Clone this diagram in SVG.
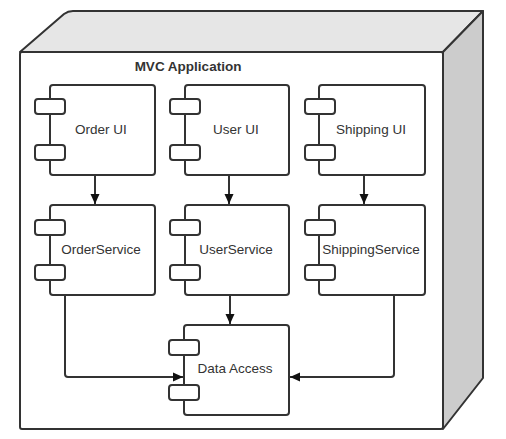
<svg xmlns="http://www.w3.org/2000/svg" width="506" height="439" viewBox="0 0 506 439">
<defs>
<style>
.edge{fill:none;stroke:#333;stroke-width:2}
.face{stroke:#333;stroke-width:2;stroke-linejoin:round}
.body{fill:#fff;stroke:#333;stroke-width:2}
.port{fill:#fff;stroke:#333;stroke-width:2}
.lbl{font-family:"Liberation Sans",Arial,sans-serif;font-size:13.5px;fill:#333;text-anchor:middle}
.title{font-family:"Liberation Sans",Arial,sans-serif;font-size:13.5px;font-weight:bold;fill:#333;text-anchor:middle}
</style>
<marker id="arr" markerWidth="10" markerHeight="10" refX="10" refY="5" orient="auto" markerUnits="userSpaceOnUse">
<path d="M0,0.5 L10,5 L0,9.5 Z" fill="#111"/>
</marker>
</defs>
<g id="node">
<path class="face" fill="#e6e6e6" d="M20,52 L64,14 Q68,11 73,11 L483,11 L443,52 Z"/>
<path class="face" fill="#cccccc" d="M443,52 L483,11 L483,378 L443,429 Z"/>
<rect class="face" fill="#fff" x="20" y="52" width="423" height="377" rx="2"/>
<text class="title" x="188" y="71">MVC Application</text>
</g>
<g id="connectors">
<path class="edge" d="M95,175 V204" marker-end="url(#arr)"/>
<path class="edge" d="M229,175 V204" marker-end="url(#arr)"/>
<path class="edge" d="M364,175 V204" marker-end="url(#arr)"/>
<path class="edge" d="M230,295 V324" marker-end="url(#arr)"/>
<path class="edge" d="M65,295 V374 Q65,377 68,377 H183" marker-end="url(#arr)"/>
<path class="edge" d="M394,295 V374 Q394,377 391,377 H290" marker-end="url(#arr)"/>
</g>
<g id="order-ui">
<rect class="body" x="50" y="85" width="105" height="90" rx="3"/>
<rect class="port" x="35" y="99" width="30" height="15" rx="3"/>
<rect class="port" x="35" y="145" width="30" height="15" rx="3"/>
<text class="lbl" x="101" y="134">Order UI</text>
</g>
<g id="user-ui">
<rect class="body" x="185" y="85" width="104" height="90" rx="3"/>
<rect class="port" x="170" y="99" width="30" height="15" rx="3"/>
<rect class="port" x="170" y="145" width="30" height="15" rx="3"/>
<text class="lbl" x="236" y="134">User UI</text>
</g>
<g id="shipping-ui">
<rect class="body" x="319" y="85" width="106" height="90" rx="3"/>
<rect class="port" x="305" y="99" width="30" height="15" rx="3"/>
<rect class="port" x="305" y="145" width="30" height="15" rx="3"/>
<text class="lbl" x="371" y="134">Shipping UI</text>
</g>
<g id="order-service">
<rect class="body" x="50" y="205" width="105" height="90" rx="3"/>
<rect class="port" x="35" y="220" width="30" height="15" rx="3"/>
<rect class="port" x="35" y="265" width="30" height="15" rx="3"/>
<text class="lbl" x="101" y="254">OrderService</text>
</g>
<g id="user-service">
<rect class="body" x="185" y="205" width="104" height="90" rx="3"/>
<rect class="port" x="170" y="220" width="30" height="15" rx="3"/>
<rect class="port" x="170" y="265" width="30" height="15" rx="3"/>
<text class="lbl" x="236" y="254">UserService</text>
</g>
<g id="shipping-service">
<rect class="body" x="319" y="205" width="106" height="90" rx="3"/>
<rect class="port" x="305" y="220" width="30" height="15" rx="3"/>
<rect class="port" x="305" y="265" width="30" height="15" rx="3"/>
<text class="lbl" x="371" y="254">ShippingService</text>
</g>
<g id="data-access">
<rect class="body" x="184" y="325" width="105" height="90" rx="3"/>
<rect class="port" x="169" y="340" width="30" height="15" rx="3"/>
<rect class="port" x="169" y="385" width="30" height="15" rx="3"/>
<text class="lbl" x="235" y="373">Data Access</text>
</g>
</svg>
